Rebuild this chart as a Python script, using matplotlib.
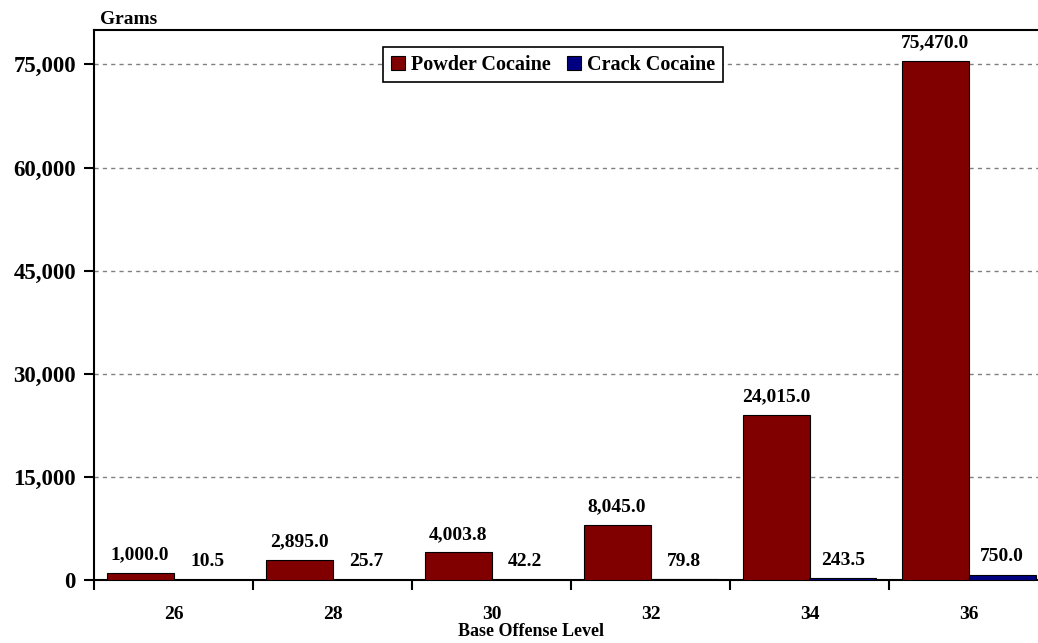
import matplotlib
matplotlib.use("Agg")
import matplotlib.pyplot as plt
import numpy as np
from matplotlib.ticker import FuncFormatter, FixedLocator

levels = ["26", "28", "30", "32", "34", "36"]
powder = [1000.0, 2895.0, 4003.8, 8045.0, 24015.0, 75470.0]
crack = [10.5, 25.7, 42.2, 79.8, 243.5, 750.0]
yticks = [0, 15000, 30000, 45000, 60000, 75000]

plt.rcParams['font.family'] = ['Liberation Serif', 'DejaVu Serif']
plt.rcParams['font.weight'] = 'bold'

W, H = 1038, 643
fig = plt.figure(figsize=(W / 100, H / 100), dpi=100)
ax = fig.add_axes([94 / W, 63 / H, 954 / W, 550 / H])

x = np.arange(len(levels))
bw = 67 / 159
b1 = ax.bar(x - bw / 2, powder, bw, color="#800000", edgecolor="black", linewidth=0.8, label="Powder Cocaine", zorder=3)
b2 = ax.bar(x + bw / 2, crack, bw, color="#000080", edgecolor="black", linewidth=0.8, label="Crack Cocaine", zorder=3)

for bars, vals in ((b1, powder), (b2, crack)):
    for r, v in zip(bars, vals):
        ax.annotate(f"{v:,.1f}", (r.get_x() + r.get_width() / 2, r.get_height()),
                    xytext=(0, 7), textcoords="offset points", ha="center", va="bottom",
                    fontsize=14, fontweight="bold")

ax.set_xlim(-0.5, 5.5)
ax.set_ylim(0, 80000)
ax.set_yticks(yticks)
ax.yaxis.set_major_formatter(FuncFormatter(lambda v, p: f"{v:,.0f}"))
ax.tick_params(axis="y", labelsize=16.5, length=7, width=1.5, pad=6, direction="out")
ax.xaxis.set_major_locator(FixedLocator(np.arange(-0.5, 6, 1)))
ax.set_xticklabels([], minor=False)
ax.set_xticks(x, minor=True)
ax.set_xticklabels(levels, minor=True)
ax.tick_params(axis="x", which="major", length=7, width=1.5, direction="out")
ax.tick_params(axis="x", which="minor", length=0, labelsize=14, pad=19)

ax.grid(axis="y", color="#808080", linestyle=(0, (3, 3)), linewidth=1.0, zorder=0)
for s in ("left", "bottom", "top"):
    ax.spines[s].set_linewidth(1.5)
ax.spines["right"].set_visible(False)

fig.text(100 / W, 1 - 20 / H, "Grams", fontsize=14, fontweight="bold", ha="left", va="center")
fig.text(531 / W, 1 - 632 / H, "Base Offense Level", fontsize=13, fontweight="bold", ha="center", va="center")

leg = ax.legend(loc="upper center", bbox_to_anchor=((553 - 94) / 954, 1 - 17 / 550), ncol=2, fontsize=14.5,
                frameon=True, fancybox=False, edgecolor="black", handlelength=0.7, handleheight=0.7,
                handletextpad=0.3, columnspacing=0.8, borderpad=0.38, borderaxespad=0, framealpha=1)
leg.get_frame().set_linewidth(1.2)

fig.savefig("out.png", dpi=100)
